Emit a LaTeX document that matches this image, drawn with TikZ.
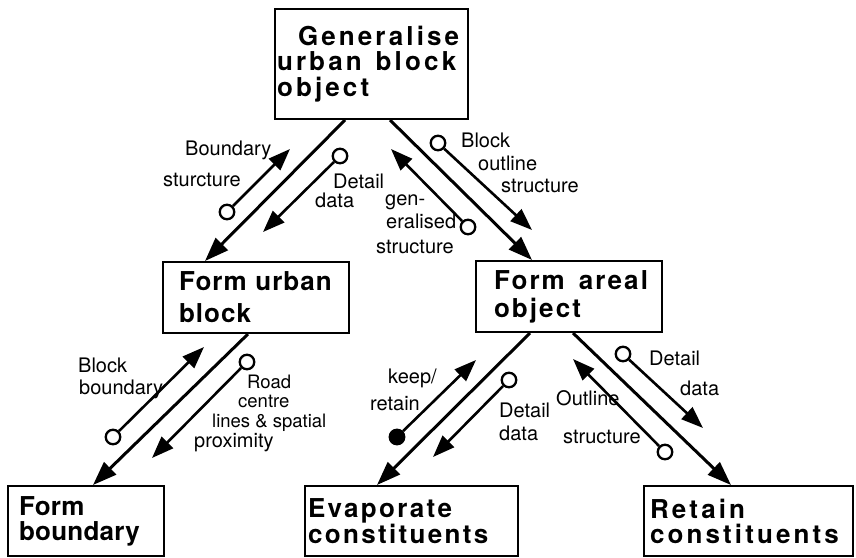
\documentclass[tikz,border=0pt]{standalone}
\usepackage{fontspec}
\setmainfont{TeX Gyre Heros}
\newfontfamily\boxfont{TeX Gyre Heros}
\usetikzlibrary{arrows.meta,calc}

\begin{document}
\begin{tikzpicture}[x=1pt,y=-1pt,
  box/.style={draw, line width=2pt, anchor=north west, inner sep=0pt, align=left},
  flow/.style={line width=3pt, -{Triangle[length=24pt,width=17pt]}},
  couple/.style={line width=2.6pt, -{Triangle[length=22pt,width=16pt]}},
  odot/.style={circle, draw, line width=2.3pt, fill=white, minimum size=14.5pt, inner sep=0pt},
  fdot/.style={odot, fill=black},
  lbl/.style={anchor=base west, inner sep=0pt, font=\fontsize{20}{21}\selectfont},
  slbl/.style={lbl, font=\fontsize{18.5}{19}\selectfont}]

\useasboundingbox (0,0) rectangle (856,557);

% process boxes
\node[box, minimum width=193pt, minimum height=110pt, text width=189pt,
      font=\boxfont\bfseries\fontsize{26}{25.5}\selectfont] (gen) at (274,8)
  {\addfontfeature{LetterSpace=12}\hspace*{21pt}Generalise\\\mbox{urban\hspace{14pt}block}\\object};
\node[box, minimum width=186pt, minimum height=71pt, text width=154pt,
      font=\boxfont\bfseries\fontsize{26}{32}\selectfont] (urb) at (162,261)
  {\addfontfeature{LetterSpace=4}Form urban\\block};
\node[box, minimum width=186pt, minimum height=71pt, text width=150pt,
      font=\boxfont\bfseries\fontsize{26}{28}\selectfont] (areal) at (475,260)
  {\addfontfeature{LetterSpace=8}\mbox{Form\hspace{14pt}areal}\\object};
\node[box, minimum width=156pt, minimum height=70pt, text width=134pt,
      font=\boxfont\bfseries\fontsize{26}{25}\selectfont] (fb) at (7,485)
  {\addfontfeature{LetterSpace=1}Form\\boundary};
\node[box, minimum width=213pt, minimum height=70pt, text width=207pt,
      font=\boxfont\bfseries\fontsize{26}{25}\selectfont] (evap) at (304,485)
  {\addfontfeature{LetterSpace=9}Evaporate\\constituents};
\node[box, minimum width=209pt, minimum height=70pt, text width=197pt,
      font=\boxfont\bfseries\fontsize{26}{25}\selectfont] (ret) at (643,485)
  {\addfontfeature{LetterSpace=12}Retain\\constituents};

% calls between modules
\draw[flow] ([xshift=71pt]gen.south west) -- ([xshift=43pt]urb.north west);
\draw[flow] ([xshift=116pt]gen.south west) -- ([xshift=57pt]areal.north west);
\draw[flow] ([xshift=86pt]urb.south west) -- ([xshift=86pt]fb.north west);
\draw[flow] ([xshift=55pt]areal.south west) -- ([xshift=73pt]evap.north west);
\draw[flow] ([xshift=98pt]areal.south west) -- ([xshift=88pt]ret.north west);

% data couples: tail circle and arrow tip
\node[odot] (ca) at (227,212) {}; \coordinate (ta) at (290,149);
\node[odot] (cb) at (340,156) {}; \coordinate (tb) at (263,232);
\node[odot] (cc) at (468,227) {}; \coordinate (tc) at (391,149);
\node[odot] (cd) at (438,143) {}; \coordinate (td) at (532,230);
\node[odot] (ce) at (113,437) {}; \coordinate (te) at (204,347);
\node[odot] (cf) at (247,362) {}; \coordinate (tf) at (152,458);
\node[fdot] (cg) at (397,437) {}; \coordinate (tg) at (476,360);
\node[odot] (ch) at (509,380) {}; \coordinate (th) at (433,457);
\node[odot] (ci) at (665,452) {}; \coordinate (ti) at (573,359);
\node[odot] (cj) at (623,354) {}; \coordinate (tj) at (703,428);
\foreach \c/\t in {ca/ta,cb/tb,cc/tc,cd/td,ce/te,cf/tf,cg/tg,ch/th,ci/ti,cj/tj}
  \draw[couple] (\c) -- (\t);

% couple labels
\node[lbl] (la1) at (185,155) {Boundary};
\node[lbl] (la2) at (163,186) {sturcture};
\node[lbl] (lb1) at (333,188) {Detail};
\node[lbl] (lb2) at (315,207) {data};
\node[lbl] (lc1) at (385,205) {gen-};
\node[lbl] (lc2) at (386,228) {eralised};
\node[lbl] (lc3) at (376,253) {structure};
\node[lbl] (ld1) at (461,147) {Block};
\node[lbl] (ld2) at (478,170) {outline};
\node[lbl] (ld3) at (501,192) {structure};
\node[lbl] (le1) at (78,372) {Block};
\node[lbl] (le2) at (79,394) {boundary};
\node[slbl] (lf1) at (247,388) {Road};
\node[slbl] (lf2) at (238,407) {centre};
\node[slbl] (lf3) at (212,427) {lines \& spatial};
\node[lbl] (lf4) at (194,447) {proximity};
\node[lbl] (lg1) at (388,383) {keep/};
\node[lbl] (lg2) at (370,410) {retain};
\node[lbl] (lh1) at (499,417) {Detail};
\node[lbl] (lh2) at (499,440) {data};
\node[lbl] (li1) at (556,405) {Outline};
\node[lbl] (li2) at (563,443) {structure};
\node[lbl] (lj1) at (649,365) {Detail};
\node[lbl] (lj2) at (680,395) {data};
\end{tikzpicture}
\end{document}
